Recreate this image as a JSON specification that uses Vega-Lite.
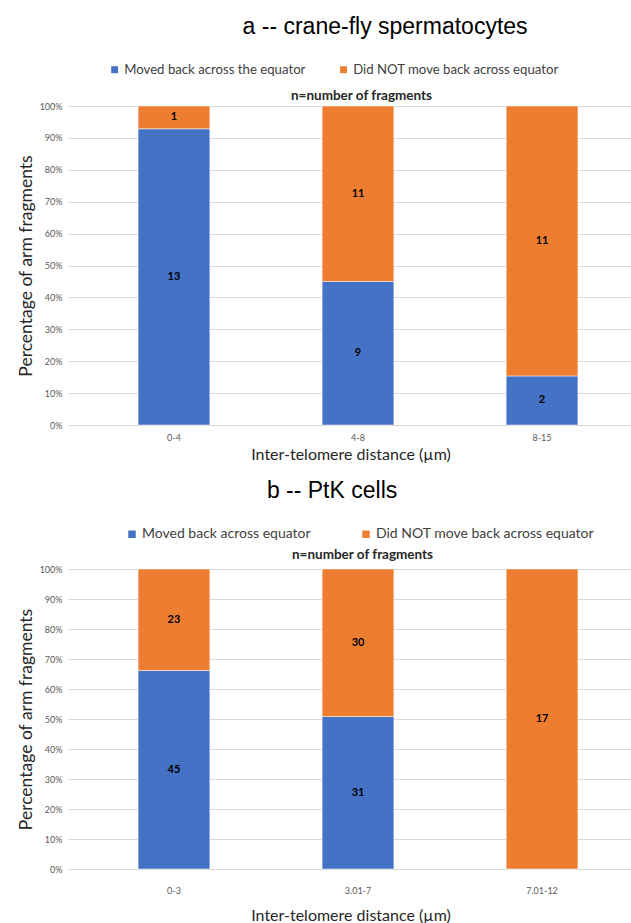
{
  "$schema": "https://vega.github.io/schema/vega-lite/v6.json",
  "background": "white",
  "padding": {"left": 17, "top": 16, "right": 0, "bottom": 0},
  "config": {
    "font": "Lato",
    "view": {"stroke": null},
    "title": {"font": "Liberation Sans", "fontWeight": "normal", "fontSize": 23, "color": "#000000", "anchor": "middle"},
    "axisY": {"domain": false, "ticks": false, "grid": true, "gridColor": "#D9D9D9", "labelColor": "#595959", "labelFontSize": 9, "titleFontSize": 17.5, "titleFontWeight": "normal", "titleColor": "#262626", "labelPadding": 6},
    "axisX": {"domainColor": "#D9D9D9", "ticks": false, "labelAngle": 0, "labelColor": "#595959", "labelFontSize": 9, "titleFontSize": 16, "titleFontWeight": "normal", "titleColor": "#262626"},
    "legend": {"orient": "top", "direction": "horizontal", "symbolType": "square", "symbolSize": 70, "labelFontSize": 13.2, "labelColor": "#404040", "labelOffset": 3, "columnPadding": 30, "labelLimit": 400, "titleOrient": "left", "titleColor": "transparent", "titleFontSize": 1, "layout": {"top": {"anchor": "middle"}}}
  },
  "vconcat": [
    {
      "title": {"text": "a -- crane-fly spermatocytes", "dx": 60, "offset": 24},
      "vconcat": [
        {
          "title": {"text": "n=number of fragments", "font": "Lato", "fontSize": 13.5, "fontWeight": "bold", "color": "#262626", "offset": 0, "dx": 11},
          "width": 565,
          "height": 319,
          "data": {"values": [
            {"dist": "0-4", "status": "Moved back across the equator", "n": 13, "order": 1},
            {"dist": "0-4", "status": "Did NOT move back across equator", "n": 1, "order": 2},
            {"dist": "4-8", "status": "Moved back across the equator", "n": 9, "order": 1},
            {"dist": "4-8", "status": "Did NOT move back across equator", "n": 11, "order": 2},
            {"dist": "8-15", "status": "Moved back across the equator", "n": 2, "order": 1},
            {"dist": "8-15", "status": "Did NOT move back across equator", "n": 11, "order": 2}
          ]},
          "transform": [
            {"stack": "n", "groupby": ["dist"], "offset": "normalize", "sort": [{"field": "order", "order": "ascending"}], "as": ["y0", "y1"]},
            {"calculate": "(datum.y0 + datum.y1) / 2", "as": "mid"}
          ],
          "encoding": {
            "x": {"field": "dist", "type": "nominal", "sort": ["0-4", "4-8", "8-15"], "scale": {"paddingInner": 0.61, "paddingOuter": 0.34, "align": 0.56}, "axis": {"title": "Inter-telomere distance (µm)", "labelPadding": 8, "titlePadding": 4}}
          },
          "layer": [
            {
              "mark": {"type": "bar", "stroke": "#ffffff", "strokeWidth": 0.5},
              "encoding": {
                "y": {"field": "y0", "type": "quantitative", "scale": {"domain": [0, 1]}, "axis": {"format": ".0%", "values": [0, 0.1, 0.2, 0.3, 0.4, 0.5, 0.6, 0.7, 0.8, 0.9, 1], "labelOverlap": false, "title": "Percentage of arm fragments"}},
                "y2": {"field": "y1"},
                "color": {"field": "status", "type": "nominal", "sort": ["Moved back across the equator", "Did NOT move back across equator"], "scale": {"domain": ["Moved back across the equator", "Did NOT move back across equator"], "range": ["#4472C4", "#ED7D31"]}, "legend": {"offset": 11, "title": " ", "titlePadding": 16}}
              }
            },
            {
              "transform": [{"filter": "datum.n > 0"}],
              "mark": {"type": "text", "fontWeight": "bold", "fontSize": 11, "color": "#000000", "baseline": "middle"},
              "encoding": {
                "y": {"field": "mid", "type": "quantitative", "scale": {"domain": [0, 1]}, "axis": {"format": ".0%", "values": [0, 0.1, 0.2, 0.3, 0.4, 0.5, 0.6, 0.7, 0.8, 0.9, 1], "labelOverlap": false, "title": "Percentage of arm fragments"}},
                "text": {"field": "n", "type": "quantitative"}
              }
            }
          ]
        }
      ]
    },
    {
      "title": {"text": "b -- PtK cells", "dx": 7, "offset": 24},
      "vconcat": [
        {
          "title": {"text": "n=number of fragments", "font": "Lato", "fontSize": 13.5, "fontWeight": "bold", "color": "#262626", "offset": 4, "dx": 12},
          "width": 565,
          "height": 300,
          "data": {"values": [
            {"dist": "0-3", "status": "Moved back across equator", "n": 45, "order": 1},
            {"dist": "0-3", "status": "Did NOT move back across equator", "n": 23, "order": 2},
            {"dist": "3.01-7", "status": "Moved back across equator", "n": 31, "order": 1},
            {"dist": "3.01-7", "status": "Did NOT move back across equator", "n": 30, "order": 2},
            {"dist": "7.01-12", "status": "Moved back across equator", "n": 0, "order": 1},
            {"dist": "7.01-12", "status": "Did NOT move back across equator", "n": 17, "order": 2}
          ]},
          "transform": [
            {"stack": "n", "groupby": ["dist"], "offset": "normalize", "sort": [{"field": "order", "order": "ascending"}], "as": ["y0", "y1"]},
            {"calculate": "(datum.y0 + datum.y1) / 2", "as": "mid"}
          ],
          "encoding": {
            "x": {"field": "dist", "type": "nominal", "sort": ["0-3", "3.01-7", "7.01-12"], "scale": {"paddingInner": 0.61, "paddingOuter": 0.34, "align": 0.56}, "axis": {"title": "Inter-telomere distance (µm)", "labelPadding": 17, "titlePadding": 12}}
          },
          "layer": [
            {
              "mark": {"type": "bar", "stroke": "#ffffff", "strokeWidth": 0.5},
              "encoding": {
                "y": {"field": "y0", "type": "quantitative", "scale": {"domain": [0, 1]}, "axis": {"format": ".0%", "values": [0, 0.1, 0.2, 0.3, 0.4, 0.5, 0.6, 0.7, 0.8, 0.9, 1], "labelOverlap": false, "title": "Percentage of arm fragments"}},
                "y2": {"field": "y1"},
                "color": {"field": "status", "type": "nominal", "sort": ["Moved back across equator", "Did NOT move back across equator"], "scale": {"domain": ["Moved back across equator", "Did NOT move back across equator"], "range": ["#4472C4", "#ED7D31"]}, "legend": {"offset": 5, "title": " ", "titlePadding": 70, "labelFontSize": 14, "columnPadding": 47, "symbolSize": 80}}
              }
            },
            {
              "transform": [{"filter": "datum.n > 0"}],
              "mark": {"type": "text", "fontWeight": "bold", "fontSize": 11, "color": "#000000", "baseline": "middle"},
              "encoding": {
                "y": {"field": "mid", "type": "quantitative", "scale": {"domain": [0, 1]}, "axis": {"format": ".0%", "values": [0, 0.1, 0.2, 0.3, 0.4, 0.5, 0.6, 0.7, 0.8, 0.9, 1], "labelOverlap": false, "title": "Percentage of arm fragments"}},
                "text": {"field": "n", "type": "quantitative"}
              }
            }
          ]
        }
      ]
    }
  ],
  "spacing": 18,
  "resolve": {"scale": {"color": "independent"}}
}
